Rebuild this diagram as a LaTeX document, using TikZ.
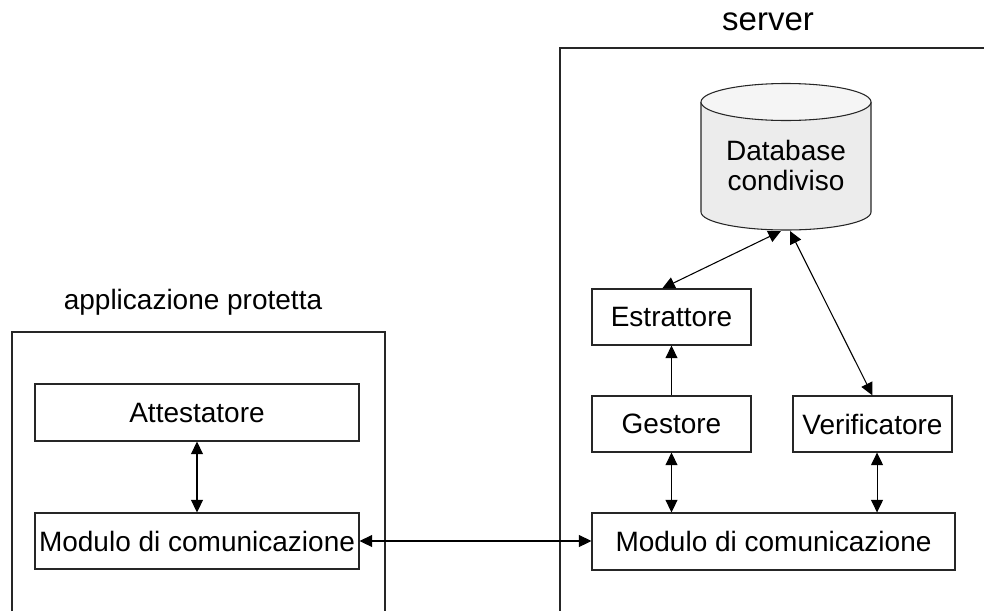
\documentclass[tikz,border=0pt]{standalone}
\usepackage{fontspec}
\setmainfont{Liberation Sans}
\usetikzlibrary{arrows.meta,calc}

\tikzset{
  block/.style={draw=black!85, line width=0.8pt, fill=white, inner sep=0pt,
    font=\fontsize{21}{24}\selectfont, minimum height=42pt},
  frame/.style={draw=black!85, line width=1.1pt},
  tip/.style={Triangle[length=9.5pt,width=9pt]},
  link/.style={line width=0.8pt, {Triangle[length=9.5pt,width=9pt]}-{Triangle[length=9.5pt,width=9pt]}},
  onelink/.style={line width=0.8pt, -{Triangle[length=9.5pt,width=9pt]}},
  title/.style={inner sep=0pt}
}

\begin{document}
\begin{tikzpicture}[x=0.75pt, y=-0.75pt]
  \useasboundingbox (0,0) rectangle (984,611);

  % outer frames (open towards the page edges)
  \draw[frame] (984,48) -- (560,48) -- (560,611);
  \draw[frame] (12,611) -- (12,332) -- (385,332) -- (385,611);

  \node[title, font=\fontsize{24.75}{28}\selectfont] (srvlabel) at (768,22) {server};
  \node[title, font=\fontsize{21}{24}\selectfont] (applabel) at (193,302) {applicazione protetta};

  % shared database cylinder
  \fill[gray!15] (701,102) -- (701,212) arc (180:0:85 and 18) -- (871,102) -- cycle;
  \draw[line width=0.8pt, black!85] (701,102) -- (701,212) arc (180:0:85 and 18) -- (871,102);
  \draw[line width=0.8pt, black!85, fill=gray!8] (786,102) ellipse (85 and 18.5);
  \node[title, align=center, font=\fontsize{21}{22.5}\selectfont] (db) at (786,165) {Database\\condiviso};
  \coordinate (dbA) at (781,231);
  \coordinate (dbB) at (790,231);

  % server components
  \node[block, minimum width=119.25pt] (estr) at (671.5,317) {Estrattore};
  \node[block, minimum width=119.25pt] (gest) at (671.5,424) {Gestore};
  \node[block, minimum width=119.25pt] (verif) at (872.5,424) {Verificatore};
  \node[block, minimum width=272.25pt, minimum height=42.75pt] (rmod) at (773.5,541.5) {Modulo di comunicazione};

  % protected application components
  \node[block, minimum width=243pt, minimum height=42.75pt] (attest) at (197,412.5) {Attestatore};
  \node[block, minimum width=243pt] (lmod) at (197,541) {Modulo di comunicazione};

  % connectors
  \draw[link] (dbA) -- ([xshift=-7pt]estr.north);
  \draw[link] (dbB) -- (verif.north);
  \draw[onelink] (gest.north) -- (estr.south);
  \draw[link] (gest.south) -- (gest.south |- rmod.north);
  \coordinate (vs) at ([xshift=3.4pt]verif.south);
  \draw[link] (vs) -- (vs |- rmod.north);
  \draw[link] (attest.south) -- (lmod.north);
  \draw[link] (lmod.east) -- (lmod.east -| rmod.west);
\end{tikzpicture}
\end{document}
